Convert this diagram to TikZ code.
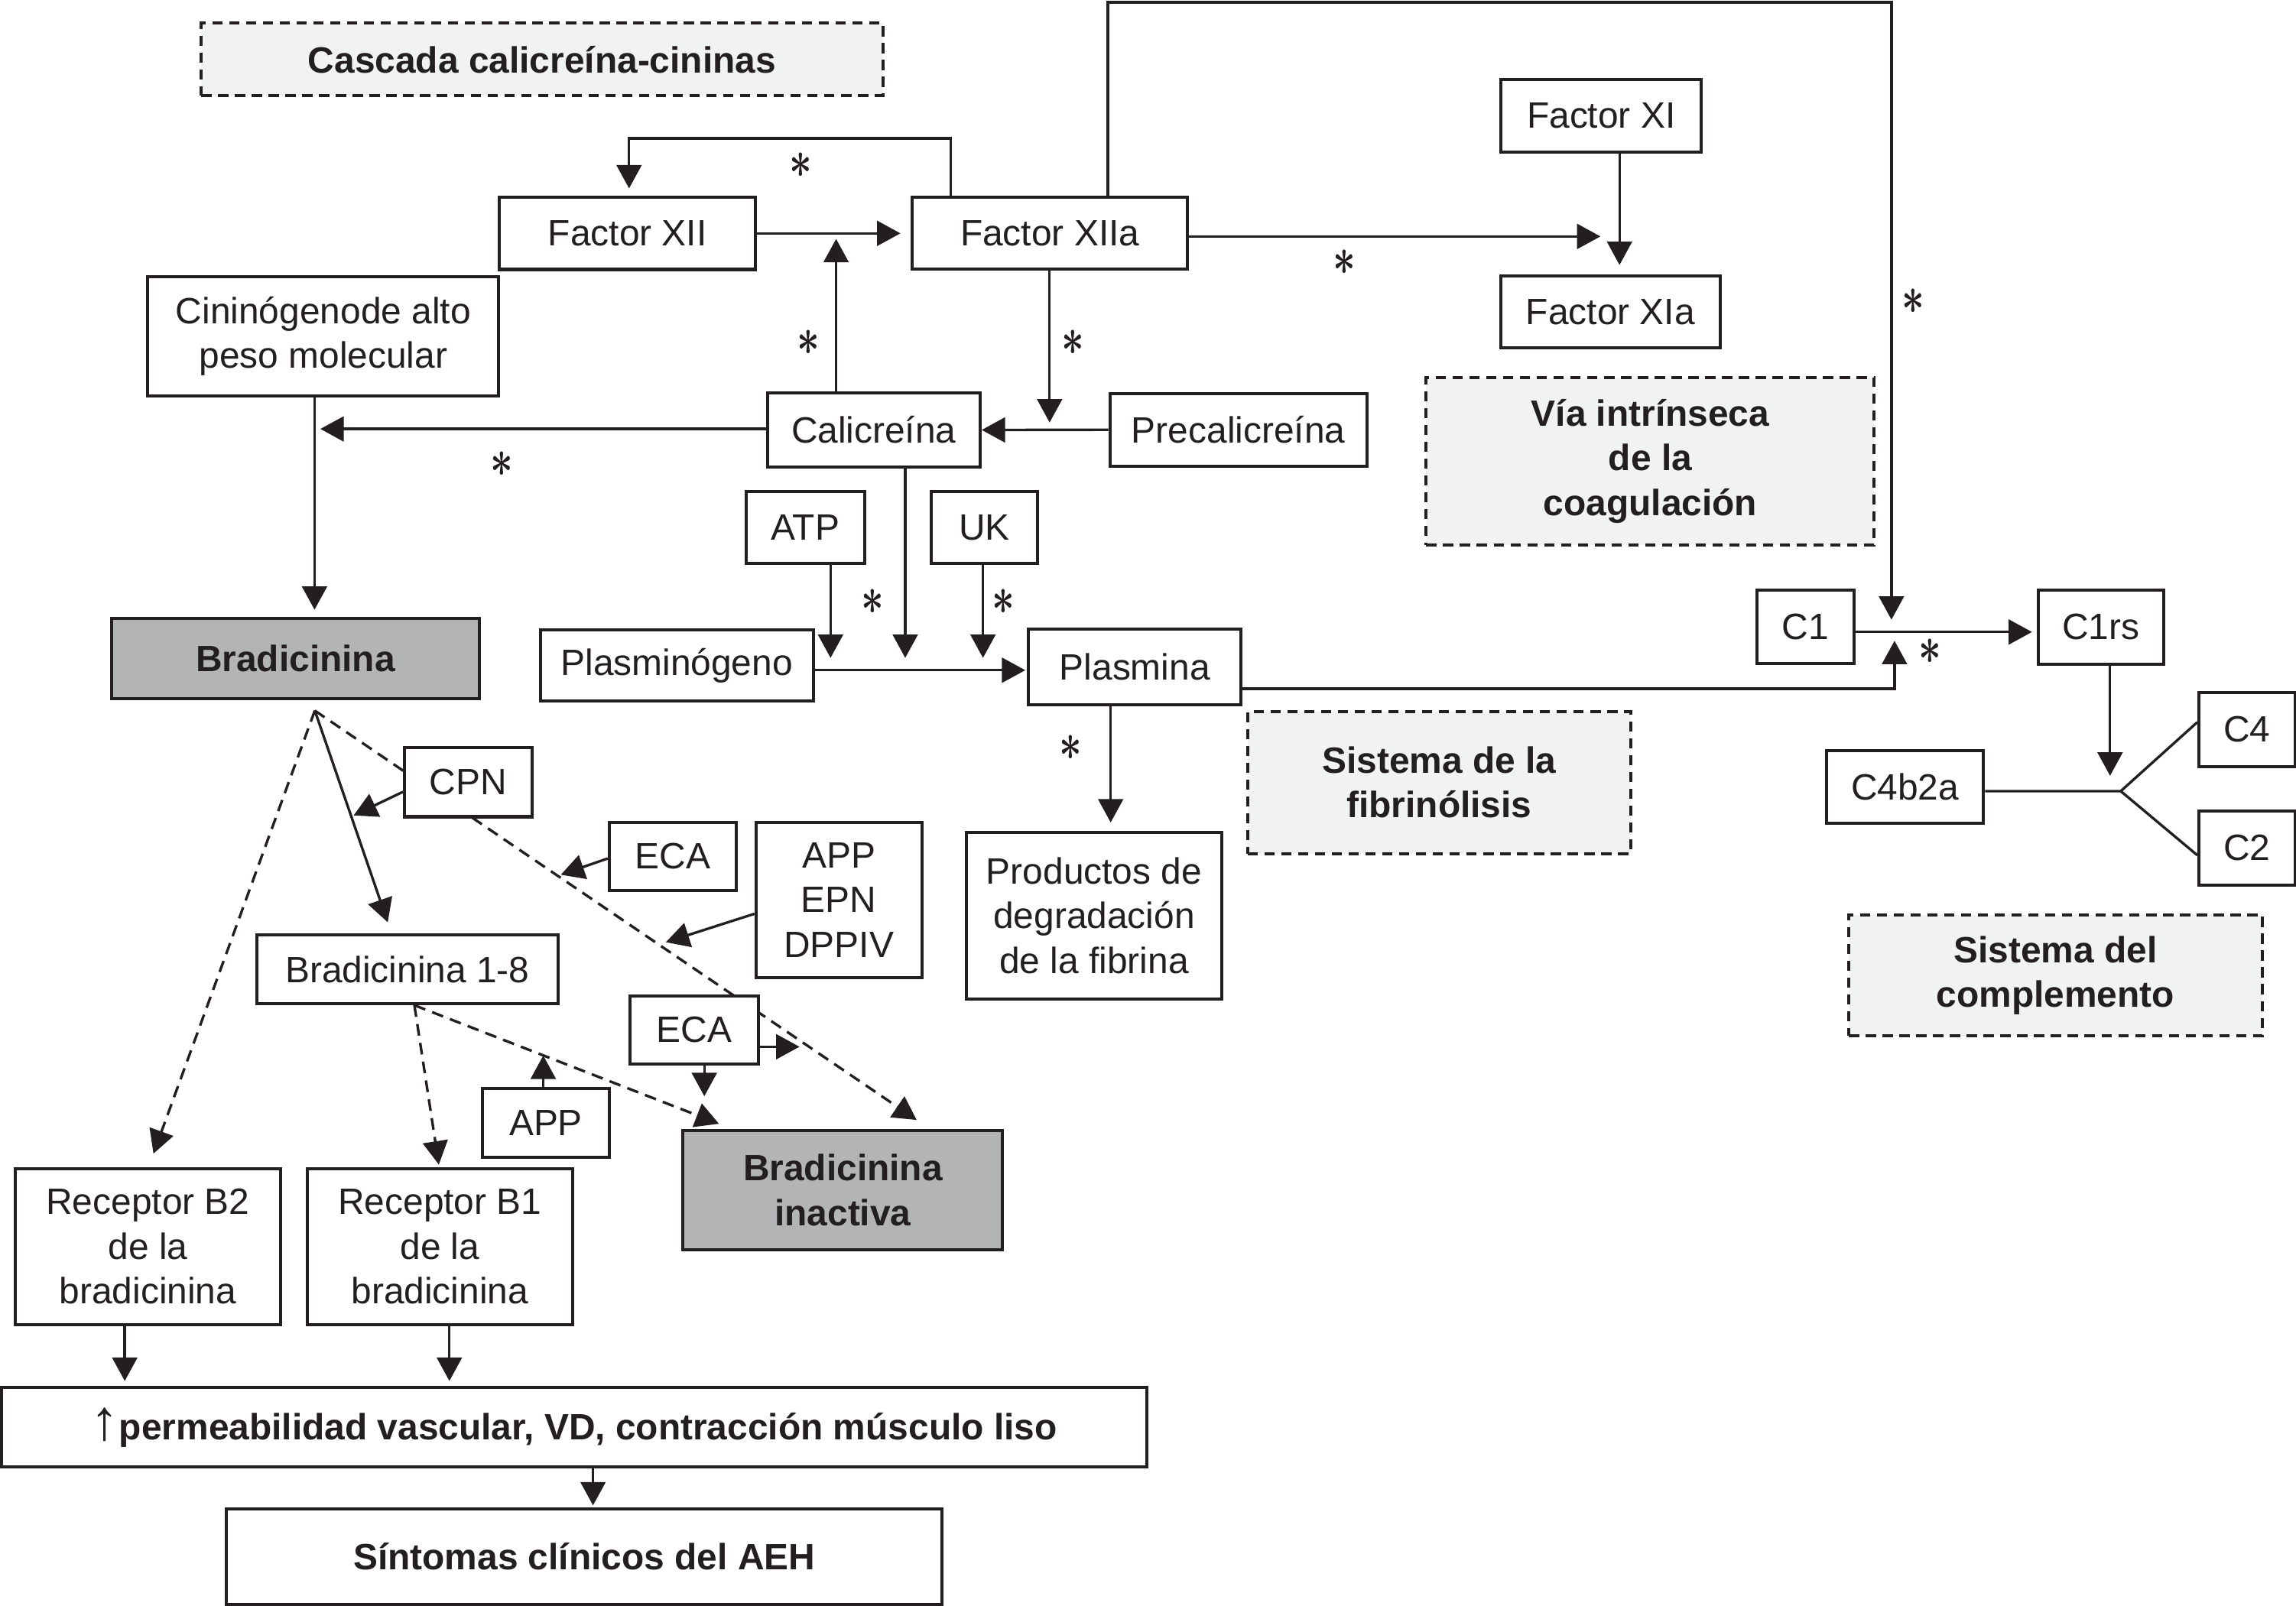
\documentclass[tikz,border=0pt]{standalone}
\usepackage{fontspec}
\setmainfont{Liberation Sans}
\usepackage{graphicx}
\usetikzlibrary{arrows.meta,calc,backgrounds}
\definecolor{ink}{HTML}{231F20}
\definecolor{grayfill}{HTML}{B3B4B5}
\definecolor{lightfill}{HTML}{F1F2F2}
\tikzset{
  box/.style={draw=ink, line width=2.1pt, fill=white, align=center, inner sep=0pt, text=ink, font=\fontsize{25}{30.5}\selectfont},
  graybox/.style={box, fill=grayfill, font=\fontsize{25}{30.5}\selectfont\bfseries},
  dbox/.style={box, fill=lightfill, dash pattern=on 7pt off 4.5pt, font=\fontsize{25}{30.5}\selectfont\bfseries},
  arr/.style={draw=ink, line width=1.75pt, -{Triangle[length=16pt,width=17pt]}},
  darr/.style={arr, dash pattern=on 8pt off 5pt},
  plain/.style={draw=ink, line width=1.75pt},
  ast/.style={inner sep=0pt, text=ink},
}
\newcommand{\myast}{\scalebox{2.7}[3.6]{\mathversion{bold}$\ast$}}
\begin{document}
\begin{tikzpicture}[x=1pt,y=-1pt]
\useasboundingbox (0,0) rectangle (1568,1097);
% nodes
\node[dbox, minimum width=465.6, minimum height=49.4] (casc) at (370.2,40.6) {Cascada calicreína-cininas};
\node[box, minimum width=175, minimum height=49.3] (f12) at (428.5,159.4) {Factor XII};
\node[box, minimum width=188, minimum height=49.2] (f12a) at (717,159.4) {Factor XIIa};
\node[box, minimum width=137, minimum height=49.5] (f11) at (1093.5,79) {Factor XI};
\node[box, minimum width=149.6, minimum height=49] (f11a) at (1099.8,213.2) {Factor XIa};
\node[dbox, minimum width=306, minimum height=114.5] (via) at (1127,315) {Vía intrínseca\\de la\\coagulación};
\node[box, minimum width=239.7, minimum height=81.6] (cin) at (220.8,229.6) {Cininógenode alto\\peso molecular};
\node[box, minimum width=145.3, minimum height=50.4] (cal) at (596.7,293.7) {Calicreína};
\node[box, minimum width=175.4, minimum height=49.4] (precal) at (845.7,293.6) {Precalicreína};
\node[box, minimum width=81, minimum height=49.3] (atp) at (550,360.3) {ATP};
\node[box, minimum width=72.3, minimum height=49.3] (uk) at (672.2,360.3) {UK};
\node[box, minimum width=186.3, minimum height=49] (plg) at (462.2,454.5) {Plasminógeno};
\node[box, minimum width=145, minimum height=51.3] (pls) at (775,455.6) {Plasmina};
\node[box, minimum width=66.2, minimum height=50] (c1) at (1232.9,428) {C1};
\node[box, minimum width=85.4, minimum height=50.5] (c1rs) at (1434.7,428.3) {C1rs};
\node[box, minimum width=107.3, minimum height=49.6] (c4b2a) at (1301,537.6) {C4b2a};
\node[box, minimum width=65.7, minimum height=50.6] (c4) at (1534.5,498.3) {C4};
\node[box, minimum width=65.7, minimum height=50.6] (c2) at (1534.5,579.2) {C2};
\node[dbox, minimum width=282.2, minimum height=82.7] (compl) at (1403.7,666.2) {Sistema del\\complemento};
\node[dbox, minimum width=261.8, minimum height=97] (fibr) at (982.9,534.5) {Sistema de la\\fibrinólisis};
\node[box, minimum width=174.4, minimum height=113.9] (prod) at (747.2,625.4) {Productos de\\degradación\\de la fibrina};
\node[graybox, minimum width=250.8, minimum height=54.6] (brad) at (201.8,449.7) {Bradicinina};
\node[box, minimum width=87.2, minimum height=47] (cpn) at (319.8,534.4) {CPN};
\node[box, minimum width=86.7, minimum height=46.5] (eca1) at (459.4,585) {ECA};
\node[box, minimum width=113.3, minimum height=105.8] (appx) at (572.9,614.7) {APP\\EPN\\DPPIV};
\node[box, minimum width=205.5, minimum height=46.8] (b18) at (278.2,662.2) {Bradicinina 1-8};
\node[box, minimum width=87.8, minimum height=46.5] (eca2) at (474.1,703.4) {ECA};
\node[box, minimum width=86.5, minimum height=46.8] (app) at (372.8,767.1) {APP};
\node[graybox, minimum width=218.3, minimum height=81.5] (inact) at (575.6,813) {Bradicinina\\inactiva};
\node[box, minimum width=181, minimum height=106.3] (rb2) at (101,851.5) {Receptor B2\\de la\\bradicinina};
\node[box, minimum width=181.3, minimum height=106.3] (rb1) at (300.4,851.5) {Receptor B1\\de la\\bradicinina};
\node[box, minimum width=782, minimum height=54.3] (perm) at (392,974.9) {\scalebox{1.55}{↑}\textbf{permeabilidad vascular, VD, contracción músculo liso}};
\node[box, minimum width=489, minimum height=65.1, font=\fontsize{25}{30.5}\selectfont\bfseries] (sint) at (399,1063.3) {Síntomas clínicos del AEH};
% asterisks
\node[ast] (s1) at (547,113) {\myast};
\node[ast] (s2) at (552,234) {\myast};
\node[ast] (s3) at (733,234) {\myast};
\node[ast] (s4) at (918,179) {\myast};
\node[ast] (s5) at (1306.5,206) {\myast};
\node[ast] (s6) at (342.7,317) {\myast};
\node[ast] (s7) at (596,411) {\myast};
\node[ast] (s8) at (685,411) {\myast};
\node[ast] (s9) at (1318,445) {\myast};
\node[ast] (s10) at (731.4,510.9) {\myast};
% connectors
\begin{pgfonlayer}{background}
\draw[arr, shorten >=7pt] (f12.east) -- (f12a.west);
\coordinate (l1) at (649.4,94.6);
\coordinate (l2) at (429.6,128.7);
\draw[arr] (l1 |- f12a.north) -- (l1) -| (l2);
\coordinate (b1) at (756.6,1.5);
\coordinate (b2) at (1291.7,423.3);
\draw[arr] (b1 |- f12a.north) -- (b1) -| (b2);
\coordinate (j1) at (1093,161.5);
\draw[arr] (f12a.east |- j1) -- (j1);
\coordinate (j2) at (1106,181);
\draw[arr] (j2 |- f11.south) -- (j2);
\coordinate (j3) at (571,163.2);
\draw[arr] (j3 |- cal.north) -- (j3);
\coordinate (j4) at (716.8,288.6);
\draw[arr] (j4 |- f12a.south) -- (j4);
\draw[arr] (precal.west) -- (cal.east);
\coordinate (j5) at (218.8,293);
\draw[arr] (cal.west |- j5) -- (j5);
\coordinate (j6) at (214.8,416.5);
\draw[arr] (j6 |- cin.south) -- (j6);
\coordinate (j7) at (567.2,449.4);
\draw[arr] (j7 |- atp.south) -- (j7);
\coordinate (j8) at (618.2,449.4);
\draw[arr] (j8 |- cal.south) -- (j8);
\coordinate (j9) at (671.3,449.4);
\draw[arr] (j9 |- uk.south) -- (j9);
\coordinate (j10) at (700.2,457.8);
\draw[arr] (plg.east |- j10) -- (j10);
\coordinate (j11) at (1293.8,437.7);
\coordinate (j11b) at (1293.8,470.4);
\draw[arr] (pls.east |- j11b) -- (j11b) -- (j11);
\coordinate (j12) at (1387.7,431.7);
\draw[arr] (c1.east |- j12) -- (j12);
\coordinate (j13) at (1441,529.9);
\draw[arr] (j13 |- c1rs.south) -- (j13);
\coordinate (j14) at (1448.3,540.4);
\draw[plain] (c4b2a.east |- j14) -- (j14) -- ($(c4.west)+(0,-5)$);
\draw[plain] (j14) -- ($(c2.west)+(0,5)$);
\coordinate (j15) at (758.5,561.8);
\draw[arr] (j15 |- pls.south) -- (j15);
\coordinate (apex) at (215,485.4);
\coordinate (t1) at (104.8,788);
\coordinate (t2) at (264.8,630);
\coordinate (t3) at (626,765);
\draw[darr] (apex) -- (t1);
\draw[arr] (apex) -- (t2);
\draw[darr] (apex) -- (t3);
\coordinate (t4) at (241.5,557);
\draw[arr] ($(cpn.west)+(0,6.5)$) -- (t4);
\coordinate (t5) at (383,597.5);
\draw[arr] ($(eca1.west)+(0,1.4)$) -- (t5);
\coordinate (t6) at (454.7,643.6);
\draw[arr] ($(appx.west)+(0,9.5)$) -- (t6);
\coordinate (apex2) at ($(b18.south)+(4.8,0)$);
\coordinate (t7) at (299.7,795.5);
\coordinate (t8) at (491,767.6);
\draw[darr] (apex2) -- (t7);
\draw[darr] (apex2) -- (t8);
\coordinate (t9) at (371,721);
\draw[arr] (t9 |- app.north) -- (t9);
\coordinate (t10) at (481,748.8);
\draw[arr] (t10 |- eca2.south) -- (t10);
\coordinate (t11) at (546,715);
\draw[arr] (eca2.east |- t11) -- (t11);
\coordinate (t12) at (85.2,943.3);
\draw[arr] (t12 |- rb2.south) -- (t12);
\coordinate (t13) at (306.9,943.3);
\draw[arr] (t13 |- rb1.south) -- (t13);
\coordinate (t14) at (405,1028.3);
\draw[arr] (t14 |- perm.south) -- (t14);
\end{pgfonlayer}
\end{tikzpicture}
\end{document}
